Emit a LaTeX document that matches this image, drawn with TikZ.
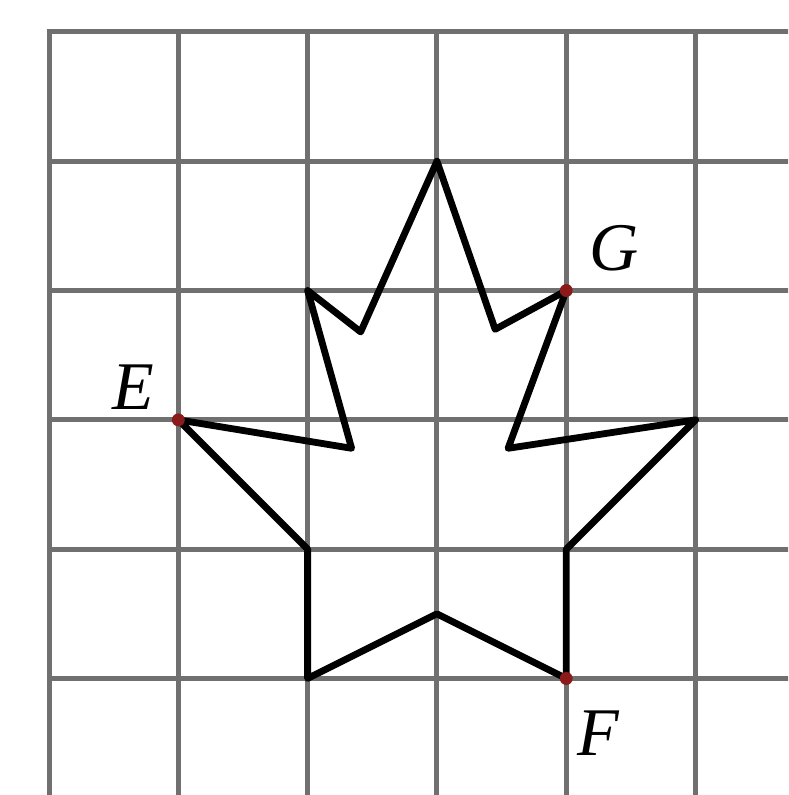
\documentclass[tikz,border=0pt]{standalone}
\usepackage{fontspec}
\setmainfont{Liberation Serif}
\usetikzlibrary{positioning}
\definecolor{gridgray}{HTML}{707070}
\definecolor{pointred}{HTML}{8B1A1A}

\begin{document}
\begin{tikzpicture}[
    gridline/.style={draw=gridgray, line width=1.1pt, line cap=rect},
    starline/.style={draw=black, line width=1.5pt, line join=round},
    ptlabel/.style={font=\fontsize{15}{18}\selectfont\itshape, inner sep=0pt}]
  \useasboundingbox (-0.379,0.099) rectangle (5.715,6.247);

  % Grid
  \begin{scope}
    \clip (-0.379,0.099) rectangle (5.715,6.247);
    \foreach \x in {0,...,5}
      \draw[gridline] (\x,0) -- (\x,6);
    \foreach \y in {1,...,6}
      \draw[gridline] (0,\y) -- (6.5,\y);
  \end{scope}

  % Star corners
  \coordinate (top) at (3,5);
  \coordinate (ur) at (3.45,3.70);
  \coordinate (G) at (4,4);
  \coordinate (rin) at (3.55,2.78);
  \coordinate (rt) at (5,3);
  \coordinate (br) at (4,2);
  \coordinate (F) at (4,1);
  \coordinate (bm) at (3,1.5);
  \coordinate (bl) at (2,1);
  \coordinate (lb) at (2,2);
  \coordinate (E) at (1,3);
  \coordinate (lin) at (2.34,2.78);
  \coordinate (ul) at (2,4);
  \coordinate (uli) at (2.41,3.68);

  % Star
  \draw[starline] (top) -- (ur) -- (G) -- (rin) -- (rt) -- (br) -- (F)
    -- (bm) -- (bl) -- (lb) -- (E) -- (lin) -- (ul) -- (uli) -- cycle;

  % Points
  \foreach \p in {E,F,G}
    \fill[pointred] (\p) circle (0.05);
  \node[ptlabel] (labE) at (0.65,3.25) {E};
  \node[ptlabel] (labG) at (4.37,4.33) {G};
  \node[ptlabel] (labF) at (4.25,0.58) {F};
\end{tikzpicture}
\end{document}
